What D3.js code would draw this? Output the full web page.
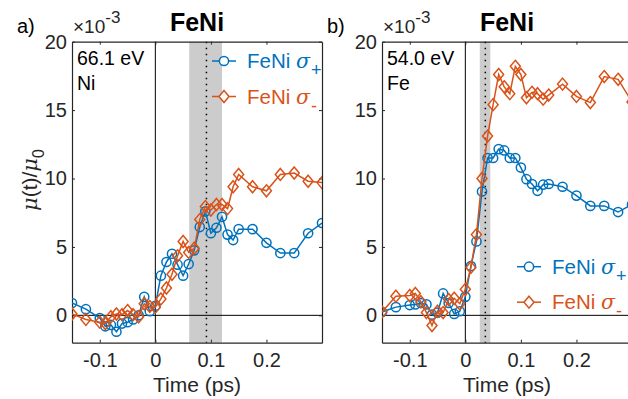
<!DOCTYPE html>
<html><head><meta charset="utf-8">
<script src="https://cdn.jsdelivr.net/npm/d3@7"></script>
<style>
body{margin:0;background:#fff}
svg text{font-family:"Liberation Sans",Arial,Helvetica,sans-serif;fill:#262626}
</style>
</head><body>
<svg id="chart" width="628" height="399"></svg>
<script>
// ---- data ----
const timeNi = [-0.15,-0.125,-0.1,-0.09,-0.08,-0.07,-0.06,-0.05,-0.04,-0.03,-0.02,-0.01,0,0.01,0.02,0.03,0.04,0.05,0.06,0.07,0.08,0.09,0.1,0.11,0.12,0.13,0.14,0.15,0.175,0.2,0.225,0.25,0.275,0.3];
const niSigmaPlus = [0.9,0.45,-0.2,-0.8,-0.7,-1.2,-0.6,-0.5,-0.3,0.0,1.35,0.3,0.7,2.9,3.9,4.5,3.7,2.9,3.75,4.75,6.45,7.6,6.0,6.4,7.2,5.9,5.5,6.3,6.3,5.3,4.55,4.55,6.0,6.75];
const niSigmaMinus = [0.1,-0.3,-0.5,-0.6,-0.1,0.1,0.05,0.35,0.05,-0.1,0.85,0.65,0.6,1.2,2.0,3.0,4.35,5.4,4.6,4.9,7.0,7.95,7.7,8.1,8.1,7.8,9.4,10.3,9.4,9.1,10.3,10.4,9.8,9.7];
const timeFe = [-0.15,-0.125,-0.1,-0.09,-0.08,-0.07,-0.06,-0.05,-0.04,-0.03,-0.02,-0.01,0,0.01,0.02,0.03,0.04,0.05,0.06,0.07,0.08,0.09,0.1,0.11,0.12,0.13,0.14,0.15,0.175,0.2,0.225,0.25,0.275,0.3];
const feSigmaPlus = [0.25,0.6,0.75,0.8,0.9,0.8,0.05,0.2,1.6,0.9,0.1,0.3,1.35,3.6,5.4,9.05,11.5,11.5,12.15,12.05,11.5,11.5,10.8,9.95,9.6,9.1,9.55,9.6,9.4,8.75,8.0,8.0,7.55,8.1];
const feSigmaMinus = [0.25,1.4,1.45,1.6,1.0,0.2,-0.75,0.3,0.2,1.15,1.25,0.85,1.9,3.5,5.9,10.0,13.1,15.4,17.6,16.7,16.2,18.2,17.6,15.9,16.3,16.2,15.8,16.1,16.9,16.0,15.55,17.45,17.25,15.6];
const xTickValues = [-0.1,0,0.1,0.2];
const yTickValues = [0,5,10,15,20];
const xTickLabels = ["-0.1","0","0.1","0.2"];
const yTickLabels = ["0","5","10","15","20"];
const panelLetters = ["a)","b)"];
const panelEnergies = ["66.1 eV","54.0 eV"];
const panelElements = ["Ni","Fe"];
const pumpBands = [[0.061,0.12],[0.026,0.045]];
const pumpCenters = [0.092,0.036];
const seriesNames = ["FeNi \u03c3","FeNi \u03c3"];
const seriesSubs = ["+","-"];

// ---- layout ----
const svg = d3.select("#chart");
const BLUE = "#0072BD", ORANGE = "#D95319", AX = "#262626";
const axTop = 41.7, axBottom = 342.7, pw = 250;
const panelLefts = [72, 382];
const legendPos = [{x:212,y:61},{x:517,y:266.7}];

const y = d3.scaleLinear().domain([-2,20]).range([axBottom, axTop]);

function drawPanel(i, times, plus, minus){
  const L = panelLefts[i], R = L + pw;
  const x = d3.scaleLinear().domain([-0.15,0.3]).range([L, R]);
  const g = svg.append("g");
  const cid = "clip"+i;
  g.append("clipPath").attr("id",cid).append("rect")
    .attr("x",L).attr("y",axTop).attr("width",pw).attr("height",axBottom-axTop);

  // band
  g.append("rect").attr("x",x(pumpBands[i][0])).attr("y",axTop)
    .attr("width",x(pumpBands[i][1])-x(pumpBands[i][0])).attr("height",axBottom-axTop)
    .attr("fill","#cccccc");
  // zero lines
  g.append("line").attr("x1",L).attr("x2",R).attr("y1",y(0)).attr("y2",y(0))
    .attr("stroke","#000").attr("stroke-width",1).attr("clip-path",`url(#${cid})`);
  g.append("line").attr("x1",x(0)).attr("x2",x(0)).attr("y1",axTop).attr("y2",axBottom)
    .attr("stroke","#000").attr("stroke-width",1);
  // dotted
  g.append("line").attr("x1",x(pumpCenters[i])).attr("x2",x(pumpCenters[i])).attr("y1",axTop).attr("y2",axBottom)
    .attr("stroke","#000").attr("stroke-width",1.5).attr("stroke-dasharray","1.5,4.5");

  // axes
  const fmtX = d => xTickLabels[xTickValues.indexOf(d)];
  const fmtY = d => yTickLabels[yTickValues.indexOf(d)];
  const ax = [
    g.append("g").attr("transform",`translate(0,${axBottom})`)
      .call(d3.axisBottom(x).tickValues(xTickValues).tickFormat(fmtX).tickSizeInner(-3).tickSizeOuter(0).tickPadding(10.5)),
    g.append("g").attr("transform",`translate(0,${axTop})`)
      .call(d3.axisTop(x).tickValues(xTickValues).tickFormat("").tickSizeInner(-3).tickSizeOuter(0)),
    g.append("g").attr("transform",`translate(${L},0)`)
      .call(d3.axisLeft(y).tickValues(yTickValues).tickFormat(fmtY).tickSizeInner(-3).tickSizeOuter(0).tickPadding(5)),
    g.append("g").attr("transform",`translate(${R},0)`)
      .call(d3.axisRight(y).tickValues(yTickValues).tickFormat("").tickSizeInner(-3).tickSizeOuter(0))
  ];
  ax.forEach(a=>{
    a.selectAll("path.domain").attr("stroke",AX).attr("stroke-width",1.2);
    a.selectAll(".tick line").attr("stroke",AX).attr("stroke-width",1);
    a.selectAll("text").attr("font-size",20).attr("fill",AX)
      .style("font-family","'Liberation Sans',Arial,sans-serif");
  });

  // data
  const dg = g.append("g").attr("clip-path",`url(#${cid})`);
  const line = d3.line().x(d=>x(d[0])).y(d=>y(d[1]));
  const dPlus = times.map((t,k)=>[t,plus[k]]);
  const dMinus = times.map((t,k)=>[t,minus[k]]);
  const diamond = "M0,-6L5,0L0,6L-5,0Z";
  dg.append("path").datum(dPlus).attr("d",line).attr("fill","none").attr("stroke",BLUE).attr("stroke-width",1.5);
  dg.selectAll("circle.p").data(dPlus).enter().append("circle")
    .attr("cx",d=>x(d[0])).attr("cy",d=>y(d[1])).attr("r",4.6)
    .attr("fill","none").attr("stroke",BLUE).attr("stroke-width",1.5);
  dg.append("path").datum(dMinus).attr("d",line).attr("fill","none").attr("stroke",ORANGE).attr("stroke-width",1.5);
  dg.selectAll("path.m").data(dMinus).enter().append("path")
    .attr("d",diamond).attr("transform",d=>`translate(${x(d[0])},${y(d[1])})`)
    .attr("fill","none").attr("stroke",ORANGE).attr("stroke-width",1.5);

  // texts
  const cx = (L+R)/2;
  g.append("text").attr("x",cx).attr("y",31).attr("text-anchor","middle")
    .attr("font-size",25).attr("font-weight","bold").style("fill","#000").text("FeNi");
  g.append("text").attr("x",L-55).attr("y",33).attr("font-size",20).style("fill","#000").text(panelLetters[i]);
  const ex = g.append("text").attr("x",L+1).attr("y",33).attr("font-size",19);
  ex.append("tspan").text("\u00d710");
  ex.append("tspan").attr("dy",-10).attr("font-size",17).text("-3");
  g.append("text").attr("x",L+5).attr("y",65).attr("font-size",19.5).style("fill","#000").text(panelEnergies[i]);
  g.append("text").attr("x",L+5).attr("y",90).attr("font-size",19.5).style("fill","#000").text(panelElements[i]);
  g.append("text").attr("x",cx).attr("y",391.5).attr("text-anchor","middle").attr("font-size",21).text("Time (ps)");

  // legend
  const lp = legendPos[i];
  const cols = [BLUE, ORANGE];
  [0,1].forEach(k=>{
    const yy = lp.y + k*35.5;
    g.append("line").attr("x1",lp.x).attr("x2",lp.x+24).attr("y1",yy).attr("y2",yy)
      .attr("stroke",cols[k]).attr("stroke-width",1.5);
    if(k===0){
      g.append("circle").attr("cx",lp.x+12).attr("cy",yy).attr("r",4.6)
        .attr("fill","#fff").attr("stroke",cols[k]).attr("stroke-width",1.5);
    } else {
      g.append("path").attr("d",diamond).attr("transform",`translate(${lp.x+12},${yy})`)
        .attr("fill","#fff").attr("stroke",cols[k]).attr("stroke-width",1.5);
    }
    const t = g.append("text").attr("x",lp.x+35).attr("y",yy+7).attr("font-size",20.5).style("fill",cols[k]);
    t.append("tspan").text(seriesNames[k].slice(0,5));
    t.append("tspan").attr("font-style","italic").style("font-family","'DejaVu Serif','Liberation Serif',serif").text("\u03c3");
    t.append("tspan").attr("dy",8).attr("dx",1).attr("font-size",18).text(seriesSubs[k]);
  });
}

drawPanel(0, timeNi, niSigmaPlus, niSigmaMinus);
drawPanel(1, timeFe, feSigmaPlus, feSigmaMinus);

// y label
const yl = svg.append("text").attr("transform","translate(37,180) rotate(-90)")
  .attr("text-anchor","middle").attr("font-size",21);
yl.append("tspan").attr("font-style","italic").style("font-family","'DejaVu Serif','Liberation Serif',serif").text("\u03bc");
yl.append("tspan").text("(t)/");
yl.append("tspan").attr("font-style","italic").style("font-family","'DejaVu Serif','Liberation Serif',serif").text("\u03bc");
yl.append("tspan").attr("dy",7).attr("font-size",16).text("0");
</script>
</body></html>
